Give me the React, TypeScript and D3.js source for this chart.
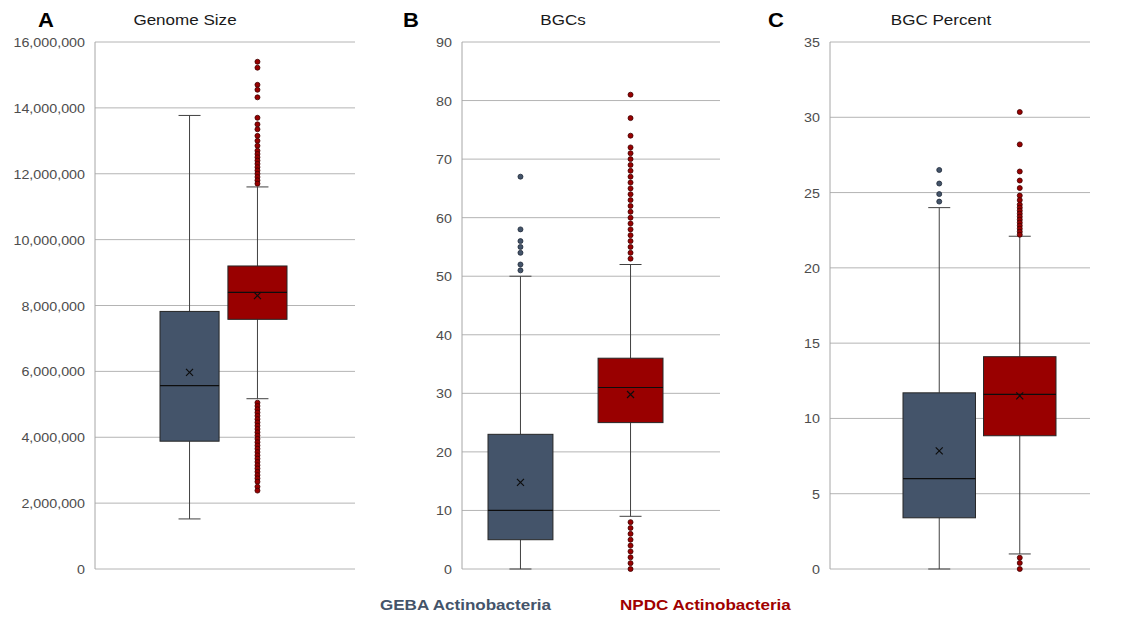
import React from "react";
import * as d3 from "d3";

const seriesNames = ["GEBA Actinobacteria", "NPDC Actinobacteria"];
const seriesColors = ["#44546a", "#990000"];
const dotEdge = ["#1f2a38", "#3d0000"];

// box stats: [lowWhisker, q1, median, q3, highWhisker, mean]
const genomeGeba = [1520000, 3880000, 5570000, 7820000, 13770000, 5970000];
const genomeNpdc = [5170000, 7580000, 8400000, 9200000, 11600000, 8300000];
const genomeGebaOut: number[] = [];
const genomeNpdcOut = [
  15400000, 15220000, 14700000, 14550000, 14320000, 13700000, 13500000, 13350000,
  13150000, 13000000, 12850000, 12700000, 12600000, 12500000, 12400000, 12300000,
  12200000, 12100000, 12000000, 11900000, 11800000, 11700000,
  5050000, 4950000, 4850000, 4750000, 4650000, 4550000, 4450000, 4350000, 4250000,
  4150000, 4050000, 3950000, 3850000, 3750000, 3650000, 3550000, 3450000, 3350000,
  3250000, 3150000, 3050000, 2950000, 2850000, 2750000, 2650000, 2500000, 2380000,
];

const bgcGeba = [0, 5, 10, 23, 50, 14.8];
const bgcNpdc = [9, 25, 31, 36, 52, 29.8];
const bgcGebaOut = [67, 58, 56, 55, 54, 52, 51];
const bgcNpdcOut = [
  81, 77, 74, 72, 71, 70, 69, 68, 67, 66, 65, 64, 63, 62, 61, 60, 59, 58, 57, 56, 55, 54, 53,
  8, 7, 6, 5, 4, 3, 2, 1, 0,
];

const pctGeba = [0, 3.4, 6.0, 11.7, 24.0, 7.85];
const pctNpdc = [1.0, 8.85, 11.6, 14.1, 22.1, 11.5];
const pctGebaOut = [26.5, 25.6, 24.9, 24.4];
const pctNpdcOut = [
  30.35, 28.2, 26.4, 25.8, 25.3, 24.8, 24.5, 24.2, 24.0, 23.8, 23.6, 23.4, 23.2, 23.0,
  22.8, 22.6, 22.4, 22.2, 0.75, 0.4, 0.0,
];

const genomeTicks = d3.range(0, 16000001, 2000000);
const bgcTicks = d3.range(0, 91, 10);
const pctTicks = d3.range(0, 36, 5);

const panels = [
  {
    letter: "A", title: "Genome Size", left: 95, right: 355, letterX: 38, titleX: 185,
    ticks: genomeTicks, fmt: d3.format(","), band: [160, 287], inner: 0.13,
    stats: [genomeGeba, genomeNpdc], outliers: [genomeGebaOut, genomeNpdcOut],
  },
  {
    letter: "B", title: "BGCs", left: 462, right: 720, letterX: 403, titleX: 563,
    ticks: bgcTicks, fmt: d3.format("d"), band: [488, 663], inner: 0.41,
    stats: [bgcGeba, bgcNpdc], outliers: [bgcGebaOut, bgcNpdcOut],
  },
  {
    letter: "C", title: "BGC Percent", left: 830, right: 1090, letterX: 768, titleX: 941,
    ticks: pctTicks, fmt: d3.format("d"), band: [903, 1056], inner: 0.1,
    stats: [pctGeba, pctNpdc], outliers: [pctGebaOut, pctNpdcOut],
  },
];

const top = 42;
const bottom = 569;
const font = "'Liberation Sans', Arial, Helvetica, sans-serif";
const stretch = 1.1; // text in the reference is a bit wide

function Label(props: any) {
  const { x, y, children, ...rest } = props;
  return (
    <g transform={`translate(${x},${y}) scale(${stretch},1)`}>
      <text fontFamily={font} {...rest}>{children}</text>
    </g>
  );
}

function Panel({ p }: { p: any }) {
  const y = d3.scaleLinear().domain([0, p.ticks[p.ticks.length - 1]]).range([bottom, top]);
  const x = d3.scaleBand<string>().domain(seriesNames).range(p.band).paddingInner(p.inner).paddingOuter(0);
  const bw = x.bandwidth();
  const capW = 22;
  return (
    <g>
      <Label x={p.letterX} y={27} fontSize={20} fontWeight="bold" fill="#000">{p.letter}</Label>
      <Label x={p.titleX} y={25} fontSize={15.5} fill="#1a1a1a" textAnchor="middle">{p.title}</Label>
      {p.ticks.map((t: number) => (
        <g key={t}>
          <line x1={p.left} x2={p.right} y1={y(t)} y2={y(t)} stroke="#b4b4b4" strokeWidth={1} />
          <Label x={p.left - 10} y={y(t) + 5} fontSize={13} fill="#4d4d4d" textAnchor="end">{p.fmt(t)}</Label>
        </g>
      ))}
      <line x1={p.left} x2={p.left} y1={top} y2={bottom} stroke="#a6a6a6" strokeWidth={1} />
      {seriesNames.map((s, i) => {
        const [lo, q1, med, q3, hi, mean] = p.stats[i];
        const x0 = x(s) as number;
        const cx = x0 + bw / 2;
        return (
          <g key={s}>
            <line x1={cx} x2={cx} y1={y(hi)} y2={y(q3)} stroke="#404040" />
            <line x1={cx} x2={cx} y1={y(q1)} y2={y(lo)} stroke="#404040" />
            <line x1={cx - capW / 2} x2={cx + capW / 2} y1={y(hi)} y2={y(hi)} stroke="#404040" />
            <line x1={cx - capW / 2} x2={cx + capW / 2} y1={y(lo)} y2={y(lo)} stroke="#404040" />
            <rect x={x0} y={y(q3)} width={bw} height={y(q1) - y(q3)} fill={seriesColors[i]} stroke="#262626" strokeWidth={1} />
            <line x1={x0} x2={x0 + bw} y1={y(med)} y2={y(med)} stroke="#0d0d0d" strokeWidth={1.2} />
            <path
              d={`M${cx - 3.5},${y(mean) - 3.5}L${cx + 3.5},${y(mean) + 3.5}M${cx - 3.5},${y(mean) + 3.5}L${cx + 3.5},${y(mean) - 3.5}`}
              stroke="#0d0d0d" strokeWidth={1.2}
            />
            {p.outliers[i].map((v: number, k: number) => (
              <circle key={k} cx={cx} cy={y(v)} r={2.5} fill={seriesColors[i]} stroke={dotEdge[i]} strokeWidth={0.8} />
            ))}
          </g>
        );
      })}
    </g>
  );
}

export default function App() {
  return (
    <svg width={1130} height={617} style={{ position: "absolute", left: 0, top: 0, background: "#fff" }}>
      <rect width={1130} height={617} fill="#fff" />
      {panels.map((p) => <Panel key={p.letter} p={p} />)}
      <Label x={380} y={610} fontSize={15.5} fontWeight="bold" fill={seriesColors[0]}>{seriesNames[0]}</Label>
      <Label x={620} y={610} fontSize={15.5} fontWeight="bold" fill="#a00000">{seriesNames[1]}</Label>
    </svg>
  );
}
